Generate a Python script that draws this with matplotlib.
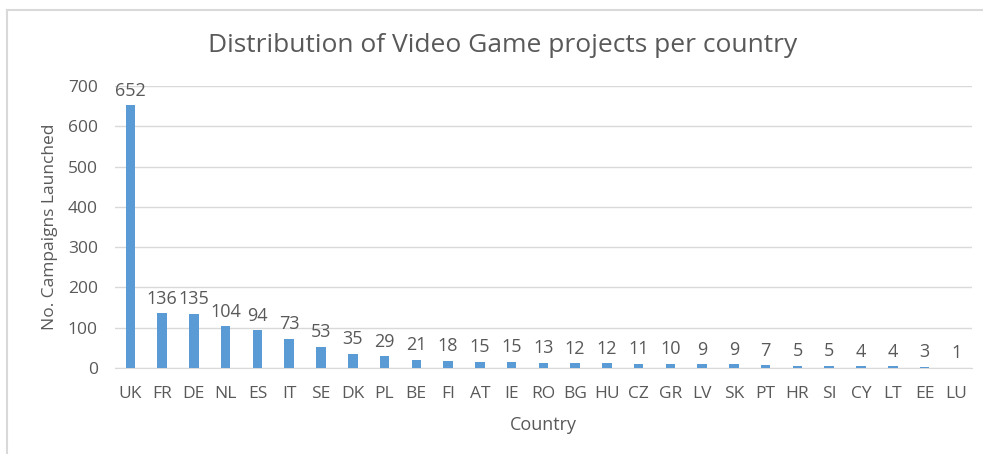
import matplotlib.pyplot as plt
from matplotlib.lines import Line2D

countries = ['UK', 'FR', 'DE', 'NL', 'ES', 'IT', 'SE', 'DK', 'PL', 'BE', 'FI', 'AT', 'IE',
             'RO', 'BG', 'HU', 'CZ', 'GR', 'LV', 'SK', 'PT', 'HR', 'SI', 'CY', 'LT', 'EE', 'LU']
campaigns = [652, 136, 135, 104, 94, 73, 53, 35, 29, 21, 18, 15, 15,
             13, 12, 12, 11, 10, 9, 9, 7, 5, 5, 4, 4, 3, 1]

plt.rcParams['font.family'] = ['Open Sans', 'DejaVu Sans']
txt = '#595959'

fig = plt.figure(figsize=(9.83, 4.54), dpi=100)
ax = fig.add_axes([0.1165, 0.1894, 0.8725, 0.6212])

x = range(len(countries))
ax.bar(x, campaigns, width=0.3, color='#5b9bd5', zorder=3)
for xi, v in zip(x, campaigns):
    ax.annotate(str(v), (xi, v), xytext=(0, 4), textcoords='offset points',
                ha='center', va='bottom', fontsize=13, color=txt)

ax.set_xlim(-0.5, len(countries) - 0.5)
ax.set_ylim(0, 700)
ax.set_yticks(range(0, 701, 100))
ax.set_xticks(list(x))
ax.set_xticklabels(countries)
ax.tick_params(axis='both', length=0, labelsize=12.5, colors=txt)
ax.tick_params(axis='x', pad=13)
ax.tick_params(axis='y', pad=12)
ax.grid(axis='y', color='#d9d9d9', lw=1, zorder=0)
for s in ['top', 'right', 'left']:
    ax.spines[s].set_visible(False)
ax.spines['bottom'].set_color('#d9d9d9')

# title is centred on the whole chart box, not on the plot area
fig.text(0.511, 0.90, 'Distribution of Video Game projects per country', fontsize=19,
         color=txt, ha='center', va='center')
ax.set_ylabel('No. Campaigns Launched', fontsize=12.5, color=txt, labelpad=7)
ax.set_xlabel('Country', fontsize=13, color=txt, labelpad=10)

# chart frame (only the top and left edges are visible)
fig.add_artist(Line2D([7 / 983, 1], [1 - 10 / 454] * 2, transform=fig.transFigure,
                      color='#d9d9d9', lw=1.5))
fig.add_artist(Line2D([7 / 983] * 2, [0, 1 - 10 / 454], transform=fig.transFigure,
                      color='#d9d9d9', lw=1.5))

fig.savefig('out.png', dpi=100)
